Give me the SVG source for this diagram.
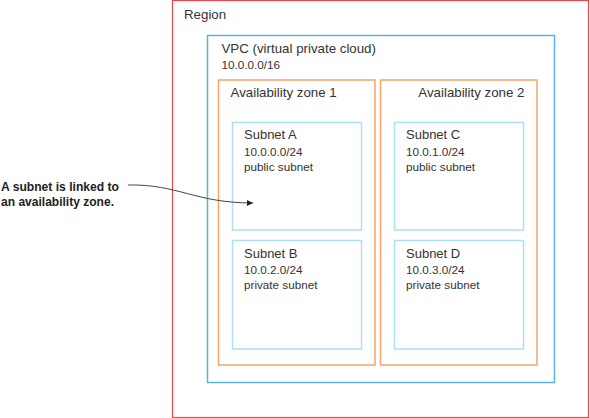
<svg xmlns="http://www.w3.org/2000/svg" width="590" height="418" viewBox="0 0 590 418">
<style>
  text { font-family: "Liberation Sans", Arial, sans-serif; fill: #333; }
  .t13 { font-size: 13.3px; }
  .ts { font-size: 13px; }
  .t11 { font-size: 11.7px; }
  .region { fill: none; stroke: #e8474c; stroke-width: 1.2; }
  .vpc { fill: none; stroke: #5fb0e0; stroke-width: 1.5; }
  .zone { fill: none; stroke: #f6a56a; stroke-width: 1.5; }
  .subnet { fill: none; stroke: #ace0f6; stroke-width: 1.5; }
  .note { font-family: "Liberation Sans", Arial, sans-serif; font-weight: bold; font-size: 13px; fill: #222; }
  .conn { fill: none; stroke: #444; stroke-width: 1; }
</style>
<defs>
  <marker id="arr" viewBox="0 0 10 10" refX="10" refY="5" markerWidth="6" markerHeight="6" markerUnits="userSpaceOnUse" orient="auto">
    <path d="M0,0 L10,5 L0,10 Z" fill="#222"/>
  </marker>
</defs>
<rect width="590" height="418" fill="#fff"/>
<g id="region">
  <rect class="region" x="172.5" y="0.5" width="416" height="417"/>
  <text class="t13" x="184" y="19">Region</text>
</g>
<g id="vpc">
  <rect class="vpc" x="207.5" y="35.5" width="347" height="347"/>
  <text class="t13" x="221.5" y="53">VPC (virtual private cloud)</text>
  <text class="t11" x="221.5" y="69">10.0.0.0/16</text>
</g>
<g id="zone1">
  <rect class="zone" x="218.5" y="80" width="156.5" height="285"/>
  <text class="t13" x="230.5" y="97.3">Availability zone 1</text>
</g>
<g id="zone2">
  <rect class="zone" x="380.5" y="80" width="156.5" height="285"/>
  <text class="t13" x="418.3" y="97.3">Availability zone 2</text>
</g>
<g id="subnetA">
  <rect class="subnet" x="232.5" y="122.5" width="129" height="107.5"/>
  <text class="ts" x="244" y="139.3">Subnet A</text>
  <text class="t11" x="244" y="155.7">10.0.0.0/24</text>
  <text class="t11" x="244" y="171">public subnet</text>
</g>
<g id="subnetC">
  <rect class="subnet" x="394.5" y="122.5" width="129" height="107.5"/>
  <text class="ts" x="406" y="139.3">Subnet C</text>
  <text class="t11" x="406" y="155.7">10.0.1.0/24</text>
  <text class="t11" x="406" y="171">public subnet</text>
</g>
<g id="subnetB">
  <rect class="subnet" x="232.5" y="240.5" width="129" height="108.5"/>
  <text class="ts" x="244" y="257.7">Subnet B</text>
  <text class="t11" x="244" y="274">10.0.2.0/24</text>
  <text class="t11" x="244" y="289.3">private subnet</text>
</g>
<g id="subnetD">
  <rect class="subnet" x="394.5" y="240.5" width="129" height="108.5"/>
  <text class="ts" x="406" y="257.7">Subnet D</text>
  <text class="t11" x="406" y="274">10.0.3.0/24</text>
  <text class="t11" x="406" y="289.3">private subnet</text>
</g>
<g id="note">
  <text class="note" x="1" y="190.5" textLength="118" lengthAdjust="spacingAndGlyphs">A subnet is linked to</text>
  <text class="note" x="1" y="205.5" textLength="113" lengthAdjust="spacingAndGlyphs">an availability zone.</text>
</g>
<g id="connectors">
  <path class="conn" d="M128,185 C178,184 195,203 253,203" marker-end="url(#arr)"/>
</g>
</svg>
